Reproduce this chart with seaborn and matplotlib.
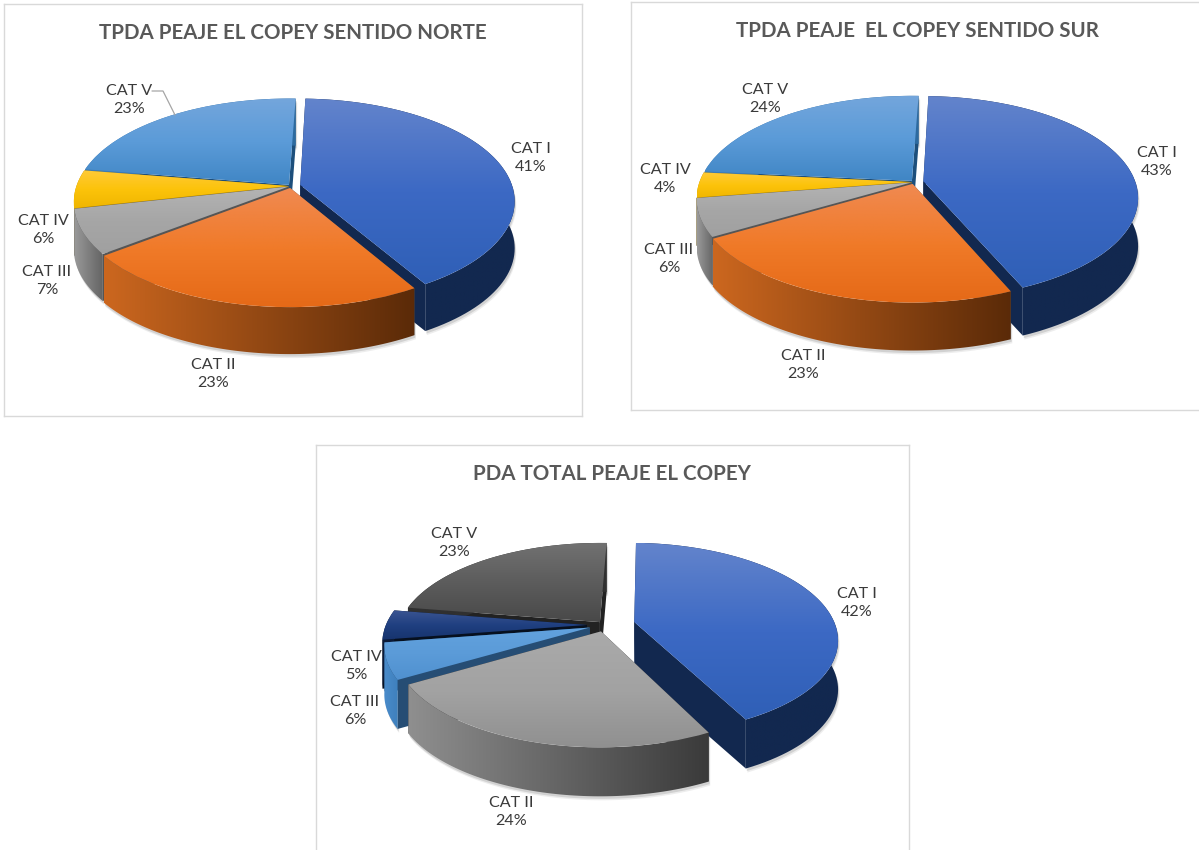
import matplotlib
matplotlib.use("Agg")
import matplotlib.pyplot as plt
import numpy as np
import seaborn as sns
from matplotlib.patches import Polygon
from matplotlib.transforms import Transform

W, H = 1199, 850

categories = ["CAT I", "CAT II", "CAT III", "CAT IV", "CAT V"]
norte = [41, 23, 7, 6, 23]
sur = [43, 23, 6, 4, 24]
total = [42, 24, 6, 5, 23]

# top colours (light to base), wall colours (left, right), cut face
blue = (["#6384cc", "#3c69c4", "#2f5fb6"], ["#12284f", "#12284f"], "#12284f")
orange = (["#f08a52", "#f07a28", "#e46816"], ["#cc671f", "#5a2a08"], "#5a5a5a")
gray = (["#b4b4b4", "#a6a6a6", "#a0a0a0"], ["#9a9a9a", "#626262"], "#555555")
gold = (["#ffca38", "#fcc30a", "#efb500"], ["#c99a00", "#a07a00"], "#a07a00")
sky = (["#74a6dc", "#5b9bd8", "#3f85c4"], ["#3f7db5", "#2d6a9f"], "#1d4f7c")
light2 = (["#62a2de", "#5b9bd8", "#4f90cf"], ["#4a8ccb", "#3e7fbc"], "#264d74")
navy = (["#3b5592", "#1f3f80", "#16336c"], ["#0b1a38", "#0b1a38"], "#06101f")
dgray = (["#727272", "#5c5c5c", "#484848"], ["#303030", "#303030"], "#222222")
lgray = (["#aaaaaa", "#a2a2a2", "#8e8e8e"], ["#8f8f8f", "#3a3a3a"], "#2f2f2f")


class Tilt(Transform):
    input_dims = 2
    output_dims = 2
    is_separable = False

    def __init__(self, cx, cy, rx, s, k):
        super().__init__()
        self.cx, self.cy, self.rx, self.s, self.k = cx, cy, rx, s, k

    def transform_non_affine(self, values):
        values = np.asarray(values, dtype=float)
        w = 1 + self.k * values[:, 1]
        return np.c_[self.cx + self.rx * values[:, 0] / w, self.cy - self.s * values[:, 1] / w]


def gradient(ax, pts, colors, horizontal, clip, z):
    cmap = sns.blend_palette(colors, 256, as_cmap=True)
    ramp = np.linspace(0, 1, 256)
    ramp = ramp[None, :] if horizontal else ramp[:, None]
    x0, y0 = pts.min(axis=0)
    x1, y1 = pts.max(axis=0)
    im = ax.imshow(ramp, cmap=cmap, extent=(x0, x1 + 1, y1 + 1, y0), aspect="auto", zorder=z,
                   vmin=0, vmax=1, interpolation="bilinear")
    im.set_clip_path(clip)


def pie3d(ax, values, styles, tilt, depth, explode, start=88):
    wedges, _ = ax.pie(values, explode=explode, startangle=start, counterclock=False, radius=1,
                       frame=True, wedgeprops={"linewidth": 0, "facecolor": "none"})
    ax.set_aspect("auto")
    ax.autoscale(False)
    z = 3
    mids = [np.sin(np.radians((w.theta1 + w.theta2) / 2)) for w in wedges]
    for i in np.argsort(mids)[::-1]:
        w = wedges[i]
        top, wall, cut = styles[i]
        th = np.radians(np.linspace(w.theta1, w.theta2, 80))
        c = np.array(w.center)
        arc = tilt.transform(c + np.c_[np.cos(th), np.sin(th)])
        apex = tilt.transform(c[None, :])[0]
        down = np.array([0, depth])
        for e in (arc[0], arc[-1]):
            ax.add_patch(Polygon([apex, e, e + down, apex + down], closed=True, fc=cut, lw=0, zorder=z))
            z += 1
        outline = np.r_[arc, (arc + down)[::-1]]
        # soft shadow under the wall
        for off, a in ((4, 0.10), (2.5, 0.18)):
            ax.add_patch(Polygon(outline + [off * 0.4, off], closed=True, fc="#555555", alpha=a, lw=0, zorder=2))
        face = Polygon(outline, closed=True, fc="none", lw=0, zorder=z)
        ax.add_patch(face)
        gradient(ax, outline, wall, True, face, z)
        z += 1
    for w, st in zip(wedges, styles):
        w.set_transform(tilt + ax.transData)
        w.set_zorder(50)
        pts = tilt.transform(w.get_path().vertices)
        gradient(ax, pts, st[0], False, w, 51)


def chart(frame, title, title_xy, values, styles, tilt_args, depth, explode, label_xy):
    x0, y0, x1, y1 = frame
    ax = fig.add_axes([x0 / W, 1 - y1 / H, (x1 - x0) / W, (y1 - y0) / H])
    tilt = Tilt(*tilt_args)
    pie3d(ax, values, styles, tilt, depth, explode)
    ax.set_xlim(x0, x1)
    ax.set_ylim(y1, y0)
    ax.set_xticks([])
    ax.set_yticks([])
    for sp in ax.spines.values():
        sp.set_color("#d9d9d9")
        sp.set_linewidth(1.0)
        sp.set_visible(True)
    ax.text(title_xy[0], title_xy[1], title, ha="center", va="center", fontsize=14.8,
            fontweight="bold", color="#595959", zorder=80)
    for name, v, (lx, ly) in zip(categories, values, label_xy):
        ax.text(lx, ly, f"{name}\n{v}%", ha="center", va="center", fontsize=11.6, color="#3a3a3a",
                linespacing=1.3, zorder=80)
    return ax


sns.set_theme(style="white")
plt.rcParams["font.family"] = ["Lato", "DejaVu Sans"]

fig = plt.figure(figsize=(W / 100, H / 100), dpi=100, facecolor="white")

ax1 = chart((4, 4, 582, 416), "TPDA PEAJE EL COPEY SENTIDO NORTE", (293, 33), norte,
            [blue, orange, gray, gold, sky], (291, 186, 212, 100, 0.155), 47,
            [0.045, 0.02, 0.012, 0.012, 0.015],
            [(531, 158), (213, 374), (47, 281), (43, 230), (129, 100)])
ax1.plot([152, 163, 175], [91, 91, 115], color="#a6a6a6", lw=0.9, zorder=81)

chart((631, 2, 1212, 410), "TPDA PEAJE  EL COPEY SENTIDO SUR", (917, 31), sur,
      [blue, orange, gray, gold, sky], (914, 182, 212, 99, 0.16), 48,
      [0.045, 0.02, 0.012, 0.012, 0.015],
      [(1157, 162), (803, 365), (669, 259), (665, 179), (765, 99)])

chart((316, 445, 909, 862), "PDA TOTAL PEAJE EL COPEY", (612, 474), total,
      [blue, lgray, light2, navy, dgray], (605, 625, 201, 93.7, 0.171), 49,
      [0.15, 0.07, 0.08, 0.09, 0.04],
      [(857, 603), (511, 812), (355, 711), (356, 666), (454, 543)])

fig.savefig("out.png", dpi=100)
